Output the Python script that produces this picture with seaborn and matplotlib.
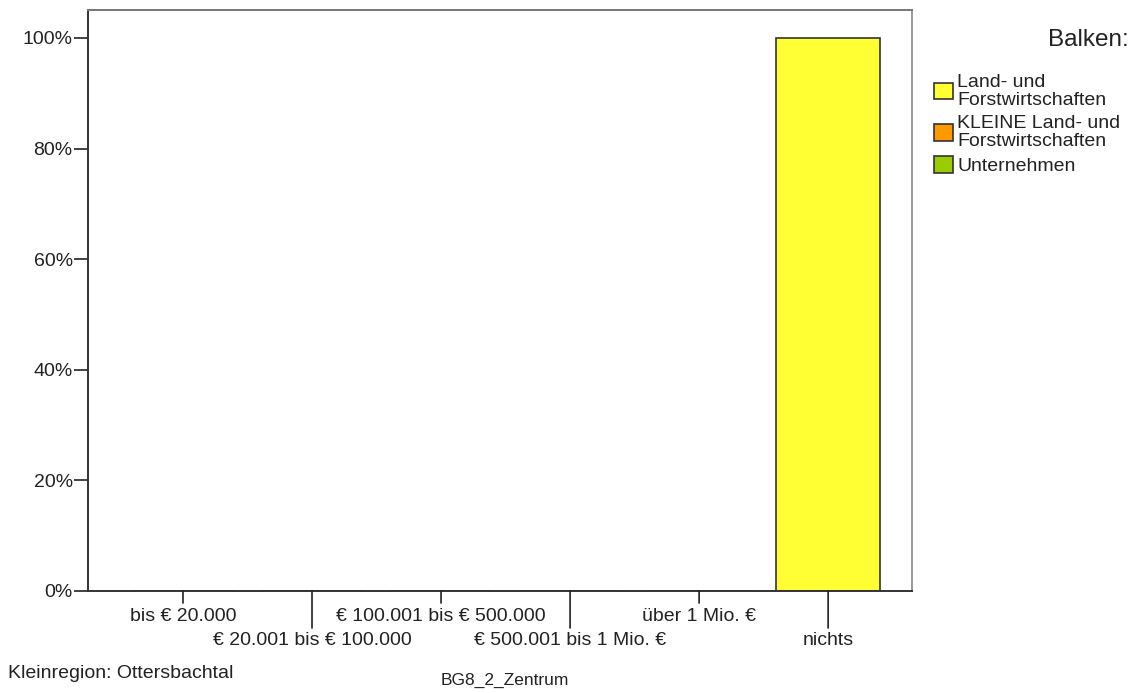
import pandas as pd
import matplotlib
matplotlib.use('Agg')
import matplotlib.pyplot as plt
import seaborn as sns
from matplotlib.patches import Patch

sns.set_style("white")
plt.rcParams['font.family'] = ['Liberation Sans', 'DejaVu Sans']

# data
categories = ["bis € 20.000", "€ 20.001 bis € 100.000", "€ 100.001 bis € 500.000",
              "€ 500.001 bis 1 Mio. €", "über 1 Mio. €", "nichts"]
land_forst = [0, 0, 0, 0, 0, 100]
kleine_land_forst = [0, 0, 0, 0, 0, 0]
unternehmen = [0, 0, 0, 0, 0, 0]

series_names = ["Land- und\nForstwirtschaften", "KLEINE Land- und\nForstwirtschaften", "Unternehmen"]
colors = ["#FFFF33", "#FF9900", "#99CC00"]
edge = "#333333"
FS = 14

fig = plt.figure(figsize=(11.4, 6.93), dpi=100)
ax = fig.add_axes([0.0772, 0.1472, 0.7228, 0.8384])

# zero-height series first, then the yellow one on top
for vals, col in [(unternehmen, colors[2]), (kleine_land_forst, colors[1]), (land_forst, colors[0])]:
    df = pd.DataFrame({"cat": categories, "val": vals})
    sns.barplot(data=df, x="cat", y="val", color=col, width=0.81,
                edgecolor=edge, linewidth=1.2, saturation=1, ax=ax)

ax.set_xlim(-0.736, 5.65)
ax.set_ylim(0, 105.06)
ax.set_yticks([0, 20, 40, 60, 80, 100])
ax.set_yticklabels([f"{v}%" for v in [0, 20, 40, 60, 80, 100]], fontsize=FS, color="#222222")
ax.set_xlabel("")
ax.set_ylabel("")

# alternating two-row category labels
ax.set_xticks(range(len(categories)))
ax.set_xticklabels([])
ax.tick_params(axis='y', length=10, width=1.2, color="#222222", left=True, pad=1)
ax.tick_params(axis='x', bottom=False)
for i, lab in enumerate(categories):
    tick_len = 12 if i % 2 == 0 else 37
    ax.annotate("", xy=(i, 0), xycoords='data', xytext=(0, -tick_len),
                textcoords='offset pixels', annotation_clip=False,
                arrowprops=dict(arrowstyle='-', color="#222222", lw=1.2, shrinkA=0, shrinkB=0))
    off = -26 if i % 2 == 0 else -50
    ax.annotate(lab, xy=(i, 0), xycoords='data', xytext=(0, off),
                textcoords='offset pixels', ha='center', va='center',
                fontsize=FS, color="#222222", annotation_clip=False)

for s in ax.spines.values():
    s.set_visible(True)
    s.set_color("#333333")
    s.set_linewidth(1.4)
ax.spines['right'].set_color("#999999")
ax.spines['top'].set_color("#777777")

# legend
handles = [Patch(facecolor=c, edgecolor=edge, linewidth=1.2) for c in colors]
leg = fig.legend(handles, series_names, loc='upper left', bbox_to_anchor=(0.8125, 0.905),
                 frameon=False, fontsize=FS, handlelength=0.95, handleheight=0.95,
                 handletextpad=0.25, labelspacing=0.3, borderaxespad=0)
for t in leg.get_texts():
    t.set_linespacing(1.1)
    t.set_color("#222222")
fig.text(0.99, 0.943, "Balken:", ha='right', va='center', fontsize=17.5, color="#222222")

fig.text(0.007, 0.028, "Kleinregion: Ottersbachtal", ha='left', va='center', fontsize=FS, color="#222222")
fig.text(0.443, 0.018, "BG8_2_Zentrum", ha='center', va='center', fontsize=12.5, color="#222222")

fig.savefig("out.png", dpi=100)
plt.close(fig)
